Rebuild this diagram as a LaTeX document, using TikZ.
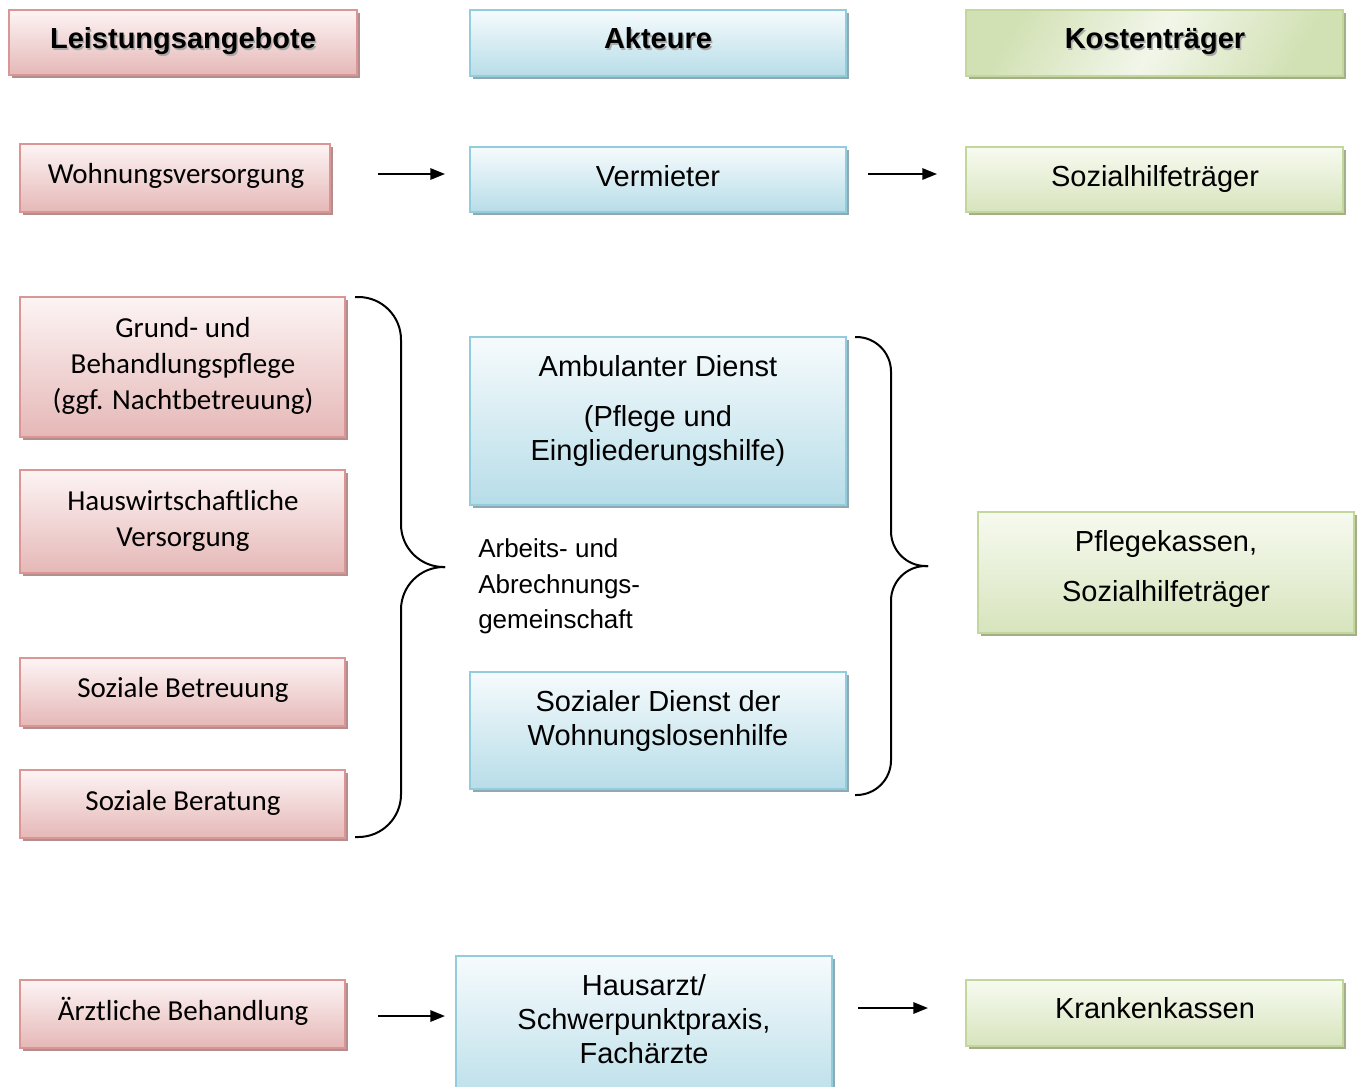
\documentclass[tikz,border=0pt]{standalone}
\usepackage{fontspec}
\setmainfont{Liberation Sans}
\newfontfamily\calfont{Carlito}
\usetikzlibrary{shadows,arrows.meta}
\definecolor{rbord}{HTML}{D99694}
\definecolor{rtop}{HTML}{FDF4F4}
\definecolor{rbot}{HTML}{E5B8B7}
\definecolor{rshad}{HTML}{B48E8E}
\definecolor{bbord}{HTML}{93CDDD}
\definecolor{btop}{HTML}{F6FBFD}
\definecolor{bbot}{HTML}{B7DDE8}
\definecolor{bshad}{HTML}{8FA9B2}
\definecolor{gbord}{HTML}{C3D69B}
\definecolor{gtop}{HTML}{F7FAF0}
\definecolor{gbot}{HTML}{D7E4BD}
\definecolor{gshad}{HTML}{A3AF88}
\definecolor{gdeep}{HTML}{D2E1B4}
\definecolor{glight}{HTML}{F2F6EA}
\definecolor{tshad}{HTML}{A8A8A8}
\newcommand\bx[6]{\node[#1, minimum width={(#5-#3)*0.75pt}, minimum height={(#6-#4)*0.75pt}] (#2) at ({(#3+#5)/2},{(#4+#6)/2}) {};}
\tikzset{
  boxbase/.style={rectangle, line width=1.6pt, inner sep=0pt},
  redbox/.style={boxbase, draw=rbord, top color=rtop, bottom color=rbot,
    drop shadow={shadow xshift=2.6pt, shadow yshift=-2.6pt, fill=rshad, opacity=1}},
  bluebox/.style={boxbase, draw=bbord, top color=btop, bottom color=bbot,
    drop shadow={shadow xshift=2.6pt, shadow yshift=-2.6pt, fill=bshad, opacity=1}},
  greenbox/.style={boxbase, draw=gbord, top color=gtop, bottom color=gbot,
    drop shadow={shadow xshift=2.6pt, shadow yshift=-2.6pt, fill=gshad, opacity=1}},
  greenhead/.style={boxbase, draw=gbord, top color=gdeep, bottom color=gdeep, middle color=glight, shading angle=60,
    drop shadow={shadow xshift=2.6pt, shadow yshift=-2.6pt, fill=gshad, opacity=1}},
  rtext/.style={font=\calfont\fontsize{21.75}{27}\selectfont, align=center, inner sep=0pt},
  atext/.style={font=\fontsize{21.75}{25.5}\selectfont, align=center, inner sep=0pt},
  stext/.style={font=\fontsize{19.5}{26.6}\selectfont, align=left, inner sep=0pt, anchor=west},
  htext/.style={font=\bfseries\fontsize{21.75}{25}\selectfont, inner sep=0pt, anchor=base},
  hshadow/.style={htext, text=tshad},
  arr/.style={line width=1.5pt, -{Triangle[length=11pt,width=8.5pt]}},
  bracel/.style={line width=1.5pt, rounded corners=32pt},
  bracer/.style={line width=1.5pt, rounded corners=26pt}
}
\begin{document}
\begin{tikzpicture}[x=0.75pt, y=-0.75pt]
\useasboundingbox (0,0) rectangle (1362,1086);
\clip (0,0) rectangle (1362,1086);
% headers
\bx{redbox}{hL}{9}{10}{357}{75}
\bx{bluebox}{hA}{470}{10}{846}{76}
\bx{greenhead}{hK}{966}{10}{1343}{76}
\node[hshadow] (hLs) at (184.5,50) {Leistungsangebote};
\node[htext] (hLt) at (183,48.5) {Leistungsangebote};
\node[hshadow] (hAs) at (659.5,50) {Akteure};
\node[htext] (hAt) at (658,48.5) {Akteure};
\node[hshadow] (hKs) at (1156.5,50) {Kostenträger};
\node[htext] (hKt) at (1155,48.5) {Kostenträger};
% row 1
\bx{redbox}{wohn}{20}{144}{330}{212}
\node[rtext, anchor=base] (wohnT) at (176,183.5) {Wohnungsversorgung};
\bx{bluebox}{verm}{470}{147}{846}{212}
\node[atext, anchor=base] (vermT) at (658,186.5) {Vermieter};
\bx{greenbox}{sozh}{966}{147}{1343}{212}
\node[atext, anchor=base] (sozhT) at (1155,186.5) {Sozialhilfeträger};
\coordinate (a1s) at (378,174);
\coordinate (a1e) at (445,174);
\coordinate (a2s) at (868,174);
\coordinate (a2e) at (937,174);
\draw[arr] (a1s) -- (a1e);
\draw[arr] (a2s) -- (a2e);
% left column
\bx{redbox}{grund}{20}{297}{345}{437}
\node[rtext] (grundT) at (183,366) {Grund- und\\Behandlungspflege\\(ggf. Nachtbetreuung)};
\bx{redbox}{haus}{20}{470}{345}{573}
\node[rtext] (hausT) at (183,521) {Hauswirtschaftliche\\Versorgung};
\bx{redbox}{betr}{20}{658}{345}{726}
\node[rtext, anchor=base] (betrT) at (183,697.5) {Soziale Betreuung};
\bx{redbox}{bera}{20}{770}{345}{838}
\node[rtext, anchor=base] (beraT) at (183,810) {Soziale Beratung};
% middle column
\bx{bluebox}{amb}{470}{337}{846}{505}
\node[atext] (ambT) at (658,410.5) {Ambulanter Dienst\\[12pt](Pflege und\\Eingliederungshilfe)};
\node[stext] (arbT) at (478,586.5) {Arbeits- und\\Abrechnungs-\\gemeinschaft};
\bx{bluebox}{sozd}{470}{672}{846}{789}
\node[atext] (sozdT) at (658,721) {Sozialer Dienst der\\Wohnungslosenhilfe};
% right
\bx{greenbox}{pfl}{978}{512}{1354}{633}
\node[atext] (pflT) at (1166,569) {Pflegekassen,\\[12pt]Sozialhilfeträger};
% braces
\coordinate (bl1) at (355,297);
\coordinate (blt) at (445,567);
\coordinate (bl2) at (355,837);
\draw[bracel] (bl1) -- (401,297) -- (401,567) -- (blt);
\draw[bracel] (blt) -- (401,567) -- (401,837) -- (bl2);
\coordinate (br1) at (855,337);
\coordinate (brt) at (928,566);
\coordinate (br2) at (855,795);
\draw[bracer] (br1) -- (891,337) -- (891,566) -- (brt);
\draw[bracer] (brt) -- (891,566) -- (891,795) -- (br2);
% bottom row
\bx{redbox}{arzt}{20}{980}{345}{1048}
\node[rtext, anchor=base] (arztT) at (183,1020.5) {Ärztliche Behandlung};
\bx{bluebox}{haus2}{456}{956}{832}{1110}
\node[atext] (haus2T) at (644,1019) {Hausarzt/\\Schwerpunktpraxis,\\Fachärzte};
\bx{greenbox}{kran}{966}{980}{1343}{1046}
\node[atext, anchor=base] (kranT) at (1155,1018.5) {Krankenkassen};
\coordinate (a3s) at (378,1016);
\coordinate (a3e) at (445,1016);
\coordinate (a4s) at (858,1008);
\coordinate (a4e) at (928,1008);
\draw[arr] (a3s) -- (a3e);
\draw[arr] (a4s) -- (a4e);
\end{tikzpicture}
\end{document}
